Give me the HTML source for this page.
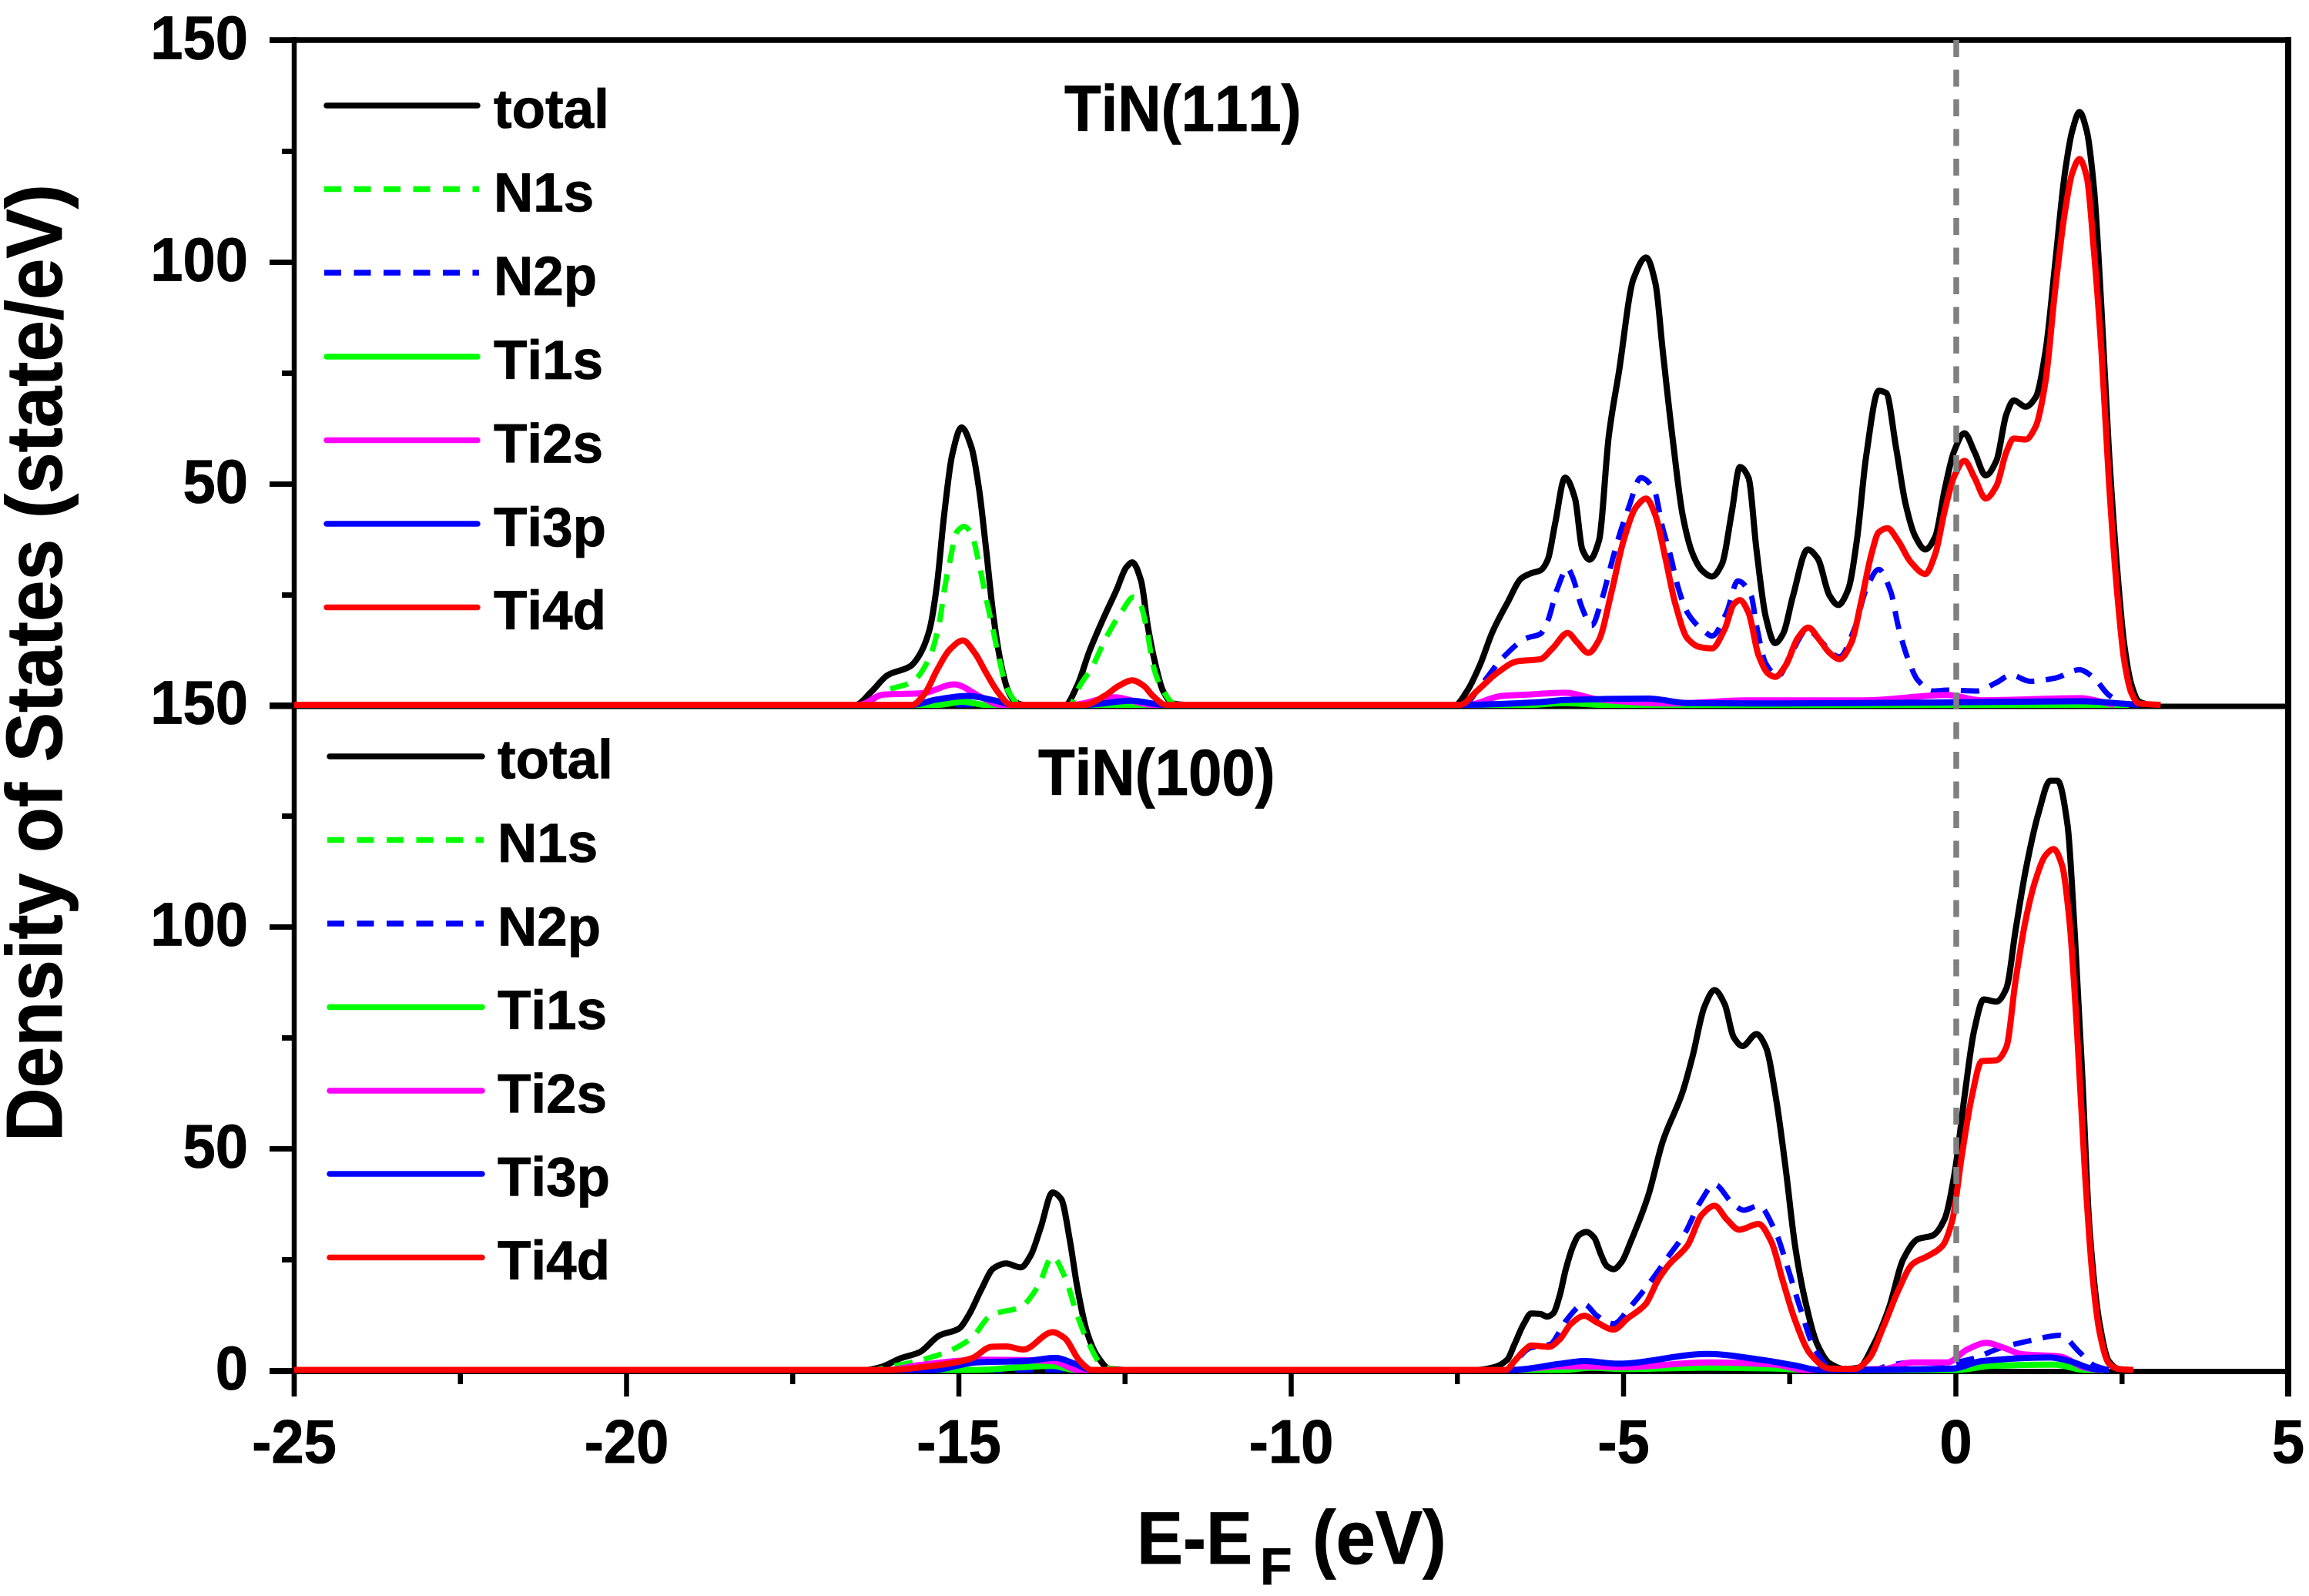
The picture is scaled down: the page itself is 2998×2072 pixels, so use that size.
<!DOCTYPE html>
<html lang="en">
<head>
<meta charset="utf-8">
<title>TiN density of states</title>
<style>
html,body{margin:0;padding:0;background:#fff;width:2998px;height:2072px;overflow:hidden}
svg{display:block}
text{font-family:"Liberation Sans",sans-serif;font-weight:bold;fill:#000;stroke:#000;stroke-width:0.8px;font-kerning:none}
.leg{font-size:71px}
</style>
</head>
<body>
<svg id="chart" xmlns="http://www.w3.org/2000/svg" width="2998" height="2072" viewBox="0 0 2998 2072">
  <rect width="2998" height="2072" fill="#fff"/>
  <g id="axes"></g>
  <g id="series"></g>

  <g stroke-width="7.5" fill="none">
    <line x1="424" x2="620" y1="137" y2="137" stroke="#000" stroke-linecap="round"/>
    <line x1="421" x2="622" y1="245.5" y2="245.5" stroke="#00ff00" stroke-dasharray="22 16.5"/>
    <line x1="421" x2="622" y1="354" y2="354" stroke="#0000ff" stroke-dasharray="22 16.5"/>
    <line x1="424" x2="620" y1="463" y2="463" stroke="#00ff00" stroke-linecap="round"/>
    <line x1="424" x2="620" y1="571.5" y2="571.5" stroke="#ff00ff" stroke-linecap="round"/>
    <line x1="424" x2="620" y1="680" y2="680" stroke="#0000ff" stroke-linecap="round"/>
    <line x1="424" x2="620" y1="788.5" y2="788.5" stroke="#ff0000" stroke-linecap="round"/>
  </g>
  <g>
    <text class="leg" x="641" y="166">total</text>
    <text class="leg" x="641" y="274.5">N1s</text>
    <text class="leg" x="641" y="383">N2p</text>
    <text class="leg" x="641" y="492">Ti1s</text>
    <text class="leg" x="641" y="600.5">Ti2s</text>
    <text class="leg" x="641" y="709">Ti3p</text>
    <text class="leg" x="641" y="817">Ti4d</text>
  </g>

  <g stroke-width="7.5" fill="none">
    <line x1="428" x2="626" y1="982" y2="982" stroke="#000" stroke-linecap="round"/>
    <line x1="425" x2="628" y1="1090.5" y2="1090.5" stroke="#00ff00" stroke-dasharray="22 16.5"/>
    <line x1="425" x2="628" y1="1199" y2="1199" stroke="#0000ff" stroke-dasharray="22 16.5"/>
    <line x1="428" x2="626" y1="1307.5" y2="1307.5" stroke="#00ff00" stroke-linecap="round"/>
    <line x1="428" x2="626" y1="1416" y2="1416" stroke="#ff00ff" stroke-linecap="round"/>
    <line x1="428" x2="626" y1="1524" y2="1524" stroke="#0000ff" stroke-linecap="round"/>
    <line x1="428" x2="626" y1="1632.5" y2="1632.5" stroke="#ff0000" stroke-linecap="round"/>
  </g>
  <g>
    <text class="leg" x="646" y="1010.5">total</text>
    <text class="leg" x="646" y="1119">N1s</text>
    <text class="leg" x="646" y="1227.5">N2p</text>
    <text class="leg" x="646" y="1336">Ti1s</text>
    <text class="leg" x="646" y="1444.5">Ti2s</text>
    <text class="leg" x="646" y="1552.5">Ti3p</text>
    <text class="leg" x="646" y="1661">Ti4d</text>
  </g>

  <text transform="translate(1382,170) scale(1,1.08)" font-size="78">TiN(111)</text>
  <text transform="translate(1348,1032) scale(1,1.08)" font-size="78">TiN(100)</text>
  <text transform="translate(80,1482) rotate(-90) scale(1,1.07)" font-size="96.4">Density of States (state/eV)</text>
  <g>
    <text transform="translate(1476,2030) scale(1,1.07)" font-size="90">E-E</text>
    <text transform="translate(1636,2057)" font-size="68">F</text>
    <text transform="translate(1704,2030) scale(1,1.07)" font-size="92">(eV)</text>
  </g>
  <line x1="2540" x2="2540" y1="52" y2="1780" stroke="#808080" stroke-width="7.5" stroke-dasharray="22 16.5"/>
</svg>
<script>
// ---- axis tick values ----
const xMajorTicks = [-25, -20, -15, -10, -5, 0, 5];
const xMinorTicks = [-22.5, -17.5, -12.5, -7.5, -2.5, 2.5];
const yMinorTicks = [25, 75, 125];
const yTicksTop = [50, 100, 150];
const yTicksBottom = [0, 50, 100, 150];

// ---- TiN(111) ----
const t111TotalE = [-25,-16.55,-16.32,-16.07,-15.73,-15.59,-15.44,-15.33,-15.22,-15.1,-14.96,-14.81,-14.7,-14.59,-14.48,-14.37,-14.26,-14.15,-14.03,-13.4,-13.22,-13.04,-12.81,-12.63,-12.48,-12.39,-12.26,-12.15,-12.04,-11.93,-11.78,-11.6,-7.53,-7.35,-7.16,-6.97,-6.75,-6.53,-6.38,-6.25,-6.14,-6.03,-5.88,-5.73,-5.62,-5.51,-5.37,-5.22,-5.07,-4.85,-4.66,-4.52,-4.41,-4.26,-4.11,-3.96,-3.82,-3.67,-3.52,-3.37,-3.25,-3.12,-3,-2.86,-2.72,-2.6,-2.45,-2.23,-2.08,-1.9,-1.77,-1.62,-1.49,-1.35,-1.16,-1.05,-0.9,-0.76,-0.61,-0.46,-0.31,-0.17,-0.03,0.13,0.28,0.45,0.61,0.76,0.87,1.05,1.2,1.35,1.49,1.64,1.75,1.86,1.97,2.08,2.19,2.3,2.42,2.53,2.64,2.75,2.9];
const t111TotalV = [0,0,2.9,6.7,8.7,11.3,17,27,43,56.4,62.5,58,49,35,20,9.5,3.2,0.6,0,0,4.3,11.9,20,25.8,31,32.1,28,17,9,3.2,0.3,0,0,3.2,9,16.5,22.9,28.6,29.7,30.3,32.7,40.8,51.2,46.5,35,32.7,37,60.8,75,96,100.8,95,79.8,59.8,42.7,34,30.3,28.9,31.7,43.6,53.6,51.2,35,19.8,13.9,16,24.6,35,33,24.6,22.5,26,37,56,70.8,70.3,58,45.5,37.9,35,37.9,48.4,57,61.2,57,51.7,55,65.5,68.6,67.2,69.3,79.8,98.9,119.8,129.3,133.6,129.3,116,89.3,57.9,32,14,4.6,0.8,0];

const t111N1sE = [-25,-16.44,-16.1,-15.7,-15.44,-15.29,-15.22,-15.14,-15.03,-14.92,-14.81,-14.7,-14.59,-14.48,-14.4,-14.26,-14.07,-13.33,-13.18,-13,-12.78,-12.55,-12.37,-12.26,-12.16,-12.08,-11.93,-11.74,-11.5];
const t111N1sV = [0,0,3.2,5.2,10.7,18.8,25.8,32,39,40.2,38.5,32,24,16.5,10.7,3.2,0,0,4.3,8.4,15.3,21,24.3,22.3,16,9,3.2,0.1,0];

const t111N2pE = [-25,-7.42,-7.12,-6.83,-6.46,-6.25,-6.14,-6,-5.84,-5.77,-5.62,-5.48,-5.33,-5.18,-5.07,-4.92,-4.74,-4.54,-4.41,-4.3,-4.18,-4.04,-3.78,-3.67,-3.45,-3.28,-3.08,-3,-2.86,-2.67,-2.49,-2.23,-2.05,-1.75,-1.53,-1.35,-1.16,-0.98,-0.87,-0.72,-0.57,-0.35,-0.13,0.31,0.61,0.83,1.12,1.49,1.86,2.08,2.3,2.53,2.7];
const t111N2pV = [0,0,4.9,10.4,15,16,18.9,26,30.8,28.9,21.7,17.9,23.6,32,37.9,44.6,51.2,48.4,39.8,34,26.5,20.8,16.5,15.5,20.8,27.9,24.6,17.9,9.3,6.5,11.2,17,14.6,10.8,17,26,30.5,25.5,17.9,10.3,5.5,3.1,3.3,3.1,5,6.7,5.3,6,7.9,6,2.2,0.3,0];

const t111Ti1sE = [-25,-15.3,-14.95,-14.6,-6.4,-5.9,-5.3,2.6];
const t111Ti1sV = [0,0,0.7,0,0,0.4,0,0];

const t111Ti2sE = [-25,-16.5,-16.14,-15.55,-15.07,-14.66,-14.37,-13.3,-12.67,-12.08,-7.35,-6.83,-6.45,-5.88,-5.37,-4.26,-3.15,-1.38,-0.13,0.39,1.86,2.38];
const t111Ti2sV = [0,0,2.3,2.6,4.6,1.7,0,0,1.7,0,0,2,2.3,2.7,1.2,0.3,1,1,2.2,1,1.5,0];

const t111Ti3pE = [-25,-15.7,-15.33,-14.88,-14.44,-14.2,-13.1,-12.41,-11.9,-7.4,-6.25,-5.88,-4.63,-4.04,-2.7,-0.35,1.86,2.75];
const t111Ti3pV = [0,0,1.2,2,0.9,0,0,0.9,0,0,0.6,1.1,1.4,0.4,0.3,0.5,0.8,0];

const t111Ti4dE = [-25,-15.7,-15.51,-15.33,-15.14,-14.94,-14.77,-14.59,-14.4,-14.22,-13.11,-12.81,-12.59,-12.39,-12.22,-12.08,-11.89,-7.46,-7.2,-6.9,-6.6,-6.25,-6.07,-5.84,-5.7,-5.53,-5.37,-5.18,-5,-4.81,-4.66,-4.52,-4.37,-4.22,-4.04,-3.85,-3.67,-3.48,-3.34,-3.25,-3.12,-2.97,-2.82,-2.72,-2.56,-2.38,-2.22,-2.05,-1.9,-1.75,-1.57,-1.42,-1.27,-1.16,-1.03,-0.87,-0.68,-0.46,-0.31,-0.17,-0.02,0.13,0.28,0.45,0.61,0.76,0.87,1.05,1.2,1.35,1.49,1.64,1.75,1.86,1.97,2.08,2.19,2.3,2.42,2.53,2.64,2.75,3.08];
const t111Ti4dV = [0,0,2.6,7.8,12.4,14.5,11.9,7.2,2.6,0,0,2,4.3,5.5,4.3,2,0,0,3.2,7.2,9.8,10.3,12.7,16.2,14.1,11.7,14.6,25.5,37,44.6,46.5,42.7,33,22.7,15,13,12.7,17,22.7,23.6,20.8,11.2,7,6.3,8.9,15,17.4,14.6,11.7,10.3,14.1,23.6,34,38.9,39.8,37,32.2,29.5,34,43.6,51.7,55,51.2,46.5,49.3,57,60,59.8,62.7,73,93,111,119.8,123,118.9,101.7,79.8,51,26.5,10.3,2.7,0.3,0];

// ---- TiN(100) ----
const t100TotalE = [-25,-16.4,-16.18,-15.88,-15.59,-15.29,-15,-14.85,-14.66,-14.48,-14.29,-14.07,-13.92,-13.77,-13.59,-13.46,-13.33,-13.22,-13.07,-12.92,-12.74,-12.5,-7.2,-6.95,-6.75,-6.64,-6.5,-6.39,-6.25,-6.15,-6.06,-5.96,-5.87,-5.77,-5.67,-5.56,-5.44,-5.34,-5.25,-5.15,-5.03,-4.89,-4.63,-4.41,-4.11,-3.96,-3.78,-3.63,-3.48,-3.34,-3.21,-3,-2.86,-2.71,-2.56,-2.42,-2.27,-2.08,-1.9,-1.68,-1.46,-1.24,-1.01,-0.79,-0.57,-0.35,-0.17,-0.02,0.13,0.28,0.42,0.61,0.76,0.9,1.05,1.24,1.42,1.53,1.68,1.79,1.9,2.01,2.16,2.3,2.45,2.6];
const t100TotalV = [0,0,0.6,2.6,4,7.8,9.3,12.4,18.2,22.9,24,23.1,25.8,32,40,38.5,29.2,18.8,8.4,3.2,0.3,0,0,0.6,2.3,5.8,10.4,12.7,12.6,12,12.7,16.8,22.6,27.5,30.4,31.1,29.8,26,23.4,22.7,24.3,29,39.2,51.5,62.7,70.8,82,85.6,82.5,74.9,73,75.7,72.8,61.6,45.3,28,15.8,5.6,1.5,0.2,0.5,5.6,13.8,25,29.5,30.3,34,44.3,61.6,76.9,83.5,83,86,99.3,112.6,125.3,132.8,132.8,122.8,98,66.7,32,10.7,2,0.2,0];

const t100N1sE = [-25,-16.3,-16.07,-15.55,-15.14,-14.81,-14.51,-14.07,-13.81,-13.59,-13.41,-13.22,-13.07,-12.81,-12.6];
const t100N1sV = [0,0,0.6,2.3,4.3,7.2,12.4,14.2,18.8,25.5,21.1,12.4,6.7,0.6,0];

const t100N2pE = [-25,-6.8,-6.4,-6.1,-5.96,-5.87,-5.59,-5.4,-5.15,-4.9,-4.59,-4.33,-4.07,-3.85,-3.63,-3.37,-3.19,-2.97,-2.71,-2.53,-2.34,-2.12,-1.83,-1.24,-1.01,-0.65,-0.13,0.24,0.68,1.12,1.57,1.86,2.08,2.3];
const t100N2pV = [0,0,5,5.8,8.7,11,14.8,12.2,10.4,14.2,20,25.5,31,37.7,41.8,37.7,36,37,31,23,13.8,4.6,0,0,1,1.7,1.5,2.5,5,6.6,7.8,4,1,0];

const t100Ti1sE = [-25,-14.74,-14.07,-13.59,-13.26,-13,-5.9,-5.48,-5,-3.74,-2.71,-2.2,0,0.53,1.49,1.94,2.3];
const t100Ti1sV = [0,0,0.6,0.9,0,0,0,0.5,0.2,0.5,0.3,0,0,0.9,1.2,0,0];

const t100Ti2sE = [-25,-16.07,-15.6,-14.66,-13.59,-13.2,-6.7,-5.94,-5.59,-5,-3.74,-2.71,-2.27,-1.09,-0.65,-0.13,0.17,0.46,0.72,0.98,1.57,1.94,2.16];
const t100Ti2sV = [0,0,1.1,2.3,2,0,0,0.8,0.8,0.6,1.7,1.2,0,0.2,1.7,1.7,4.6,6.1,5,3.6,3,0.5,0];

const t100Ti3pE = [-25,-15.4,-14.74,-14,-13.55,-13.26,-13,-6.7,-5.94,-5.59,-5.09,-3.74,-2.93,-2.42,-2.05,-0.05,0.39,1.42,1.71,2.08,2.3];
const t100Ti3pV = [0,0,1.7,2,2.7,1.4,0,0,1.4,2,1.4,3.6,2.3,1,0,0.3,2,2.8,2,0.2,0];

const t100Ti4dE = [-25,-16.1,-15.4,-14.81,-14.51,-14.29,-14.03,-13.59,-13.41,-13.18,-13,-6.77,-6.64,-6.48,-6.39,-6.12,-5.96,-5.79,-5.59,-5.4,-5.15,-4.94,-4.67,-4.48,-4.32,-4.04,-3.82,-3.63,-3.45,-3.26,-2.97,-2.78,-2.6,-2.42,-2.19,-1.9,-1.53,-1.31,-1.09,-0.87,-0.65,-0.42,-0.2,-0.05,0.09,0.24,0.39,0.61,0.76,0.9,1.05,1.2,1.35,1.47,1.6,1.71,1.82,1.94,2.05,2.16,2.3,2.45,2.67];
const t100Ti4dV = [0,0,0.9,2.6,5.2,5.3,4.6,8.5,7.2,2,0,0,2,4.6,5.5,5.2,6.9,10.4,12.2,10.7,9.1,11.6,14.8,20.3,23.7,28,35,37,34,31.6,32.9,29,19.9,11.2,3.6,0.3,0.2,2.5,9.7,17.8,23.9,25.7,28,34,48.4,61.6,69.6,69.8,72.8,88,101.4,110.5,116,117.4,113.6,101,77,45,22,8.7,1.5,0.2,0];

const NS = 'http://www.w3.org/2000/svg';
const axesLayer = document.getElementById('axes');
const seriesLayer = document.getElementById('series');

// axis functions
function xScale(e) { return 2539.5 + e * 86.3; }
function yTop(v) { return 915 - v * 5.76; }
function yBottom(v) { return 1778.5 - v * 5.76; }

function addLine(x1, y1, x2, y2, w, name) {
  const el = document.createElementNS(NS, 'line');
  el.setAttribute('x1', x1);
  el.setAttribute('y1', y1);
  el.setAttribute('x2', x2);
  el.setAttribute('y2', y2);
  el.setAttribute('stroke', '#000');
  el.setAttribute('stroke-width', w);
  
  
  axesLayer.appendChild(el);
}

function addText(str, x, y, anchor, name) {
  const el = document.createElementNS(NS, 'text');
  el.setAttribute('transform', 'translate(' + x + ',' + y + ') scale(1,1.05)');
  el.setAttribute('text-anchor', anchor);
  el.setAttribute('font-size', '76');
  el.textContent = str;
  
  
  axesLayer.appendChild(el);
}

// frame
addLine(350, 52, 2975, 52, 7.5, 'top-axis-line');
addLine(382, 48, 382, 1813, 6.5, 'left-axis-line');
addLine(2971, 48, 2971, 1813, 8, 'right-axis-line');
addLine(350, 917, 2975, 917, 7, 'panel-divider-axis');
addLine(350, 1780.5, 2975, 1780.5, 7, 'bottom-axis-line');

// y ticks
yTicksTop.forEach(function (v) {
  const py = yTop(v) + 1.5;
  addLine(350, py, 382, py, 7, 'y-tick-top-' + v);
  addText(String(v), 322, py + 24, 'end', 'y-tick-label-top-' + v);
});
yMinorTicks.forEach(function (v) {
  const py = yTop(v) + 1.5;
  addLine(366, py, 382, py, 7, 'y-minor-tick-top-' + v);
});
yTicksBottom.forEach(function (v) {
  const py = yBottom(v) + 1;
  addLine(350, py, 382, py, 7, 'y-tick-bottom-' + v);
  addText(String(v), 322, py + 24, 'end', 'y-tick-label-bottom-' + v);
});
yMinorTicks.forEach(function (v) {
  const py = yBottom(v) + 1;
  addLine(366, py, 382, py, 7, 'y-minor-tick-bottom-' + v);
});

// x ticks
xMajorTicks.forEach(function (e) {
  const px = xScale(e);
  addLine(px, 1780, px, 1813, 6.5, 'x-tick-' + e);
  addText(String(e), px, 1899, 'middle', 'x-tick-label-' + e);
});
xMinorTicks.forEach(function (e) {
  const px = xScale(e);
  addLine(px, 1780, px, 1797, 6.5, 'x-minor-tick-' + e);
});

// monotone cubic path through the data points
function curvePath(es, vs, yScale) {
  const n = Math.min(es.length, vs.length);
  const xs = [];
  const ys = [];
  for (let i = 0; i < n; i++) {
    xs.push(xScale(es[i]));
    ys.push(yScale(vs[i]));
  }
  const d = [];
  const h = [];
  for (let i = 0; i < n - 1; i++) {
    h.push(xs[i + 1] - xs[i]);
    d.push((ys[i + 1] - ys[i]) / h[i]);
  }
  const m = [d[0]];
  for (let i = 1; i < n - 1; i++) {
    if (d[i - 1] * d[i] <= 0) {
      m.push(0);
    } else {
      m.push(3 * (h[i - 1] + h[i]) / ((2 * h[i] + h[i - 1]) / d[i - 1] + (h[i] + 2 * h[i - 1]) / d[i]));
    }
  }
  m.push(d[n - 2]);
  let out = 'M' + xs[0].toFixed(1) + ' ' + ys[0].toFixed(1);
  for (let i = 0; i < n - 1; i++) {
    const t = h[i] / 3;
    out += 'C' + (xs[i] + t).toFixed(1) + ' ' + (ys[i] + m[i] * t).toFixed(1) + ' '
      + (xs[i + 1] - t).toFixed(1) + ' ' + (ys[i + 1] - m[i + 1] * t).toFixed(1) + ' '
      + xs[i + 1].toFixed(1) + ' ' + ys[i + 1].toFixed(1);
  }
  return out;
}

function drawSeries(es, vs, yScale, color, dashed, name) {
  const el = document.createElementNS(NS, 'path');
  el.setAttribute('d', curvePath(es, vs, yScale));
  el.setAttribute('fill', 'none');
  el.setAttribute('stroke', color);
  el.setAttribute('stroke-width', dashed ? '7' : '8');
  el.setAttribute('stroke-linejoin', 'round');
  if (dashed) {
    el.setAttribute('stroke-dasharray', '24 15');
  }
  
  
  seriesLayer.appendChild(el);
}

drawSeries(t111TotalE, t111TotalV, yTop, '#000000', false, 'series-tin111-total');
drawSeries(t111N1sE, t111N1sV, yTop, '#00ff00', true, 'series-tin111-n1s');
drawSeries(t111N2pE, t111N2pV, yTop, '#0000ff', true, 'series-tin111-n2p');
drawSeries(t111Ti1sE, t111Ti1sV, yTop, '#00ff00', false, 'series-tin111-ti1s');
drawSeries(t111Ti2sE, t111Ti2sV, yTop, '#ff00ff', false, 'series-tin111-ti2s');
drawSeries(t111Ti3pE, t111Ti3pV, yTop, '#0000ff', false, 'series-tin111-ti3p');
drawSeries(t111Ti4dE, t111Ti4dV, yTop, '#ff0000', false, 'series-tin111-ti4d');

drawSeries(t100TotalE, t100TotalV, yBottom, '#000000', false, 'series-tin100-total');
drawSeries(t100N1sE, t100N1sV, yBottom, '#00ff00', true, 'series-tin100-n1s');
drawSeries(t100N2pE, t100N2pV, yBottom, '#0000ff', true, 'series-tin100-n2p');
drawSeries(t100Ti1sE, t100Ti1sV, yBottom, '#00ff00', false, 'series-tin100-ti1s');
drawSeries(t100Ti2sE, t100Ti2sV, yBottom, '#ff00ff', false, 'series-tin100-ti2s');
drawSeries(t100Ti3pE, t100Ti3pV, yBottom, '#0000ff', false, 'series-tin100-ti3p');
drawSeries(t100Ti4dE, t100Ti4dV, yBottom, '#ff0000', false, 'series-tin100-ti4d');
</script>
</body>
</html>
